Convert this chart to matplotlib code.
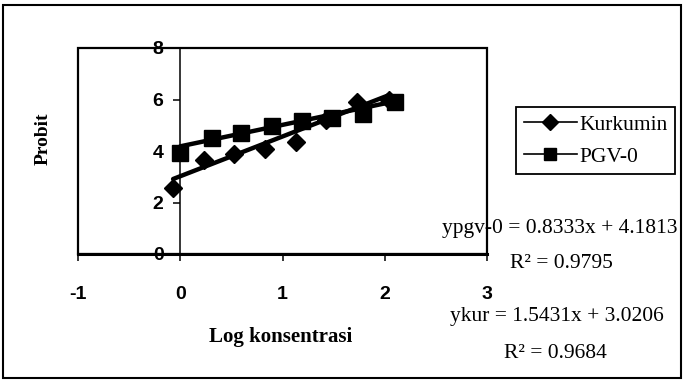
import numpy as np
import matplotlib
matplotlib.use("Agg")
from matplotlib import pyplot as plt
from matplotlib.lines import Line2D
from matplotlib.patches import Rectangle

plt.rcParams['axes.unicode_minus'] = False

# data
kur_x = [-0.07, 0.23, 0.53, 0.83, 1.13, 1.43, 1.73, 2.04]
kur_y = [2.55, 3.65, 3.88, 4.08, 4.35, 5.2, 5.9, 6.0]
pgv_x = [0.0, 0.31, 0.59, 0.90, 1.19, 1.48, 1.79, 2.10]
pgv_y = [3.92, 4.51, 4.71, 4.98, 5.18, 5.29, 5.45, 5.92]

# trendlines shown on the chart
kur_fit = [1.5431, 3.0206]
pgv_fit = [0.8333, 4.1813]

xticks = [-1, 0, 1, 2, 3]
xtick_labels = ['-1', '0', '1', '2', '3']
yticks = [0, 2, 4, 6, 8]
ytick_labels = ['0', '2', '4', '6', '8']

W, H = 684, 381
fig = plt.figure(figsize=(W / 100, H / 100), dpi=100)

# outer frame around whole chart
fig.patches.append(Rectangle((3 / W, 3 / H), 678 / W, 373 / H, transform=fig.transFigure,
                             fill=False, edgecolor='k', lw=1.5))

ax = fig.add_axes([78 / W, 1 - 254 / H, (487 - 78) / W, (254 - 48) / H])
ax.set_xlim(-1, 3)
ax.set_ylim(0, 8)

# plot area box
ax.add_patch(Rectangle((0, 0), 1, 1, transform=ax.transAxes, fill=False,
                       edgecolor='k', lw=1.6, clip_on=False, zorder=1))
ax.spines['top'].set_visible(False)
ax.spines['right'].set_visible(False)
ax.spines['left'].set_position(('data', 0))
ax.spines['left'].set_linewidth(1.1)
ax.spines['bottom'].set_linewidth(2.2)

ax.plot(kur_x, kur_y, linestyle='none', marker='D', ms=9.5, color='k', zorder=3)
ax.plot(pgv_x, pgv_y, linestyle='none', marker='s', ms=11.5, color='k', zorder=3)

xx = np.array([min(kur_x), max(kur_x)])
ax.plot(xx, np.polyval(kur_fit, xx), color='k', lw=3.2, solid_capstyle='round', zorder=2)
xx = np.array([min(pgv_x), max(pgv_x)])
ax.plot(xx, np.polyval(pgv_fit, xx), color='k', lw=3.2, solid_capstyle='round', zorder=2)

ax.set_xticks(xticks)
ax.set_xticklabels(xtick_labels)
ax.set_yticks(yticks)
ax.set_yticklabels(ytick_labels)
ax.tick_params(axis='y', direction='out', length=5, width=1.1, pad=7)
ax.tick_params(axis='x', direction='out', length=5, width=1.1, pad=18)
for lab in ax.get_xticklabels() + ax.get_yticklabels():
    lab.set_fontfamily('Liberation Sans')
    lab.set_fontweight('bold')
    lab.set_fontsize(14)

serif = 'Liberation Serif'
fig.text(43 / W, 1 - 139 / H, 'Probit', rotation=90, ha='center', va='center',
         family=serif, weight='bold', fontsize=14)
fig.text(281 / W, 1 - 337 / H, 'Log konsentrasi', ha='center', va='center',
         family=serif, weight='bold', fontsize=15)

fig.text(560 / W, 1 - 228 / H, 'ypgv-0 = 0.8333x + 4.1813', ha='center', va='center',
         family=serif, fontsize=15.5)
fig.text(561 / W, 1 - 263 / H, 'R² = 0.9795', ha='center', va='center',
         family=serif, fontsize=15.5)
fig.text(557 / W, 1 - 317 / H, 'ykur = 1.5431x + 3.0206', ha='center', va='center',
         family=serif, fontsize=15.5)
fig.text(555 / W, 1 - 353 / H, 'R² = 0.9684', ha='center', va='center',
         family=serif, fontsize=15.5)

handles = [Line2D([], [], color='k', lw=1.2, marker='D', ms=8),
           Line2D([], [], color='k', lw=1.2, marker='s', ms=8)]
leg = fig.legend(handles, ['Kurkumin', 'PGV-0'], loc='upper left',
                 bbox_to_anchor=(516 / W, 1 - 107 / H), borderaxespad=0,
                 frameon=True, fancybox=False, edgecolor='k', framealpha=1,
                 prop={'family': serif, 'size': 15.5}, handlelength=2.5,
                 handletextpad=0.1, labelspacing=0.55, borderpad=0.35)
leg.get_frame().set_linewidth(1.3)

fig.savefig('out.png', dpi=100)
